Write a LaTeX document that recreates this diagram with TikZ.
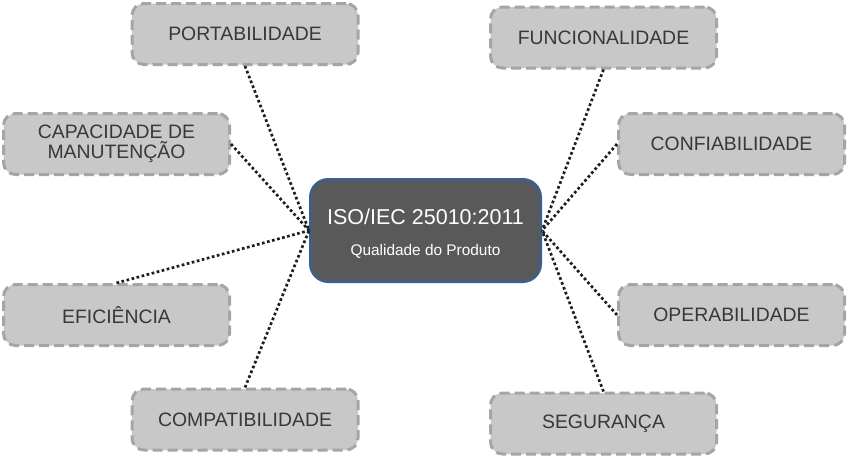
\documentclass[tikz,border=0pt]{standalone}
\usepackage{fontspec}
\setmainfont{Liberation Sans}
\definecolor{boxfill}{HTML}{C8C8C8}
\definecolor{boxline}{HTML}{A5A5A5}
\definecolor{boxtext}{HTML}{383838}
\definecolor{hubfill}{HTML}{595959}
\definecolor{hubline}{HTML}{3B5F8F}
\definecolor{dotline}{HTML}{1E1E1E}
\begin{document}
\begin{tikzpicture}[x=1pt,y=-1pt,
  topic/.style={draw=boxline, fill=boxfill, line width=3pt,
    dash pattern=on 10pt off 5pt, rounded corners=12pt,
    minimum width=226pt, minimum height=61pt, inner sep=0pt,
    text=boxtext, align=center,
    font=\fontsize{19.4}{20.5}\selectfont},
  hub/.style={draw=hubline, fill=hubfill, line width=2.5pt,
    rounded corners=18pt, minimum width=230.5pt, minimum height=102.5pt,
    inner sep=0pt},
  link/.style={draw=dotline, line width=2.7pt, dash pattern=on 2.7pt off 2.5pt}
]
\useasboundingbox (0,0) rectangle (848,458);

\node[hub] (hub) at (425.5,230.5) {};
\node[text=white, font=\fontsize{21.5}{24}\selectfont, anchor=base, inner sep=0pt] (title) at (425.5,224) {ISO/IEC 25010:2011};
\node[text=white, font=\fontsize{15.4}{18}\selectfont, anchor=base, inner sep=0pt] (sub) at (425.5,255.5) {Qualidade do Produto};

\node[topic] (port) at (245,34) {PORTABILIDADE};
\node[topic] (func) at (603.5,37.5) {FUNCIONALIDADE};
\node[topic] (manu) at (116.5,144) {CAPACIDADE DE\\MANUTENÇÃO};
\node[topic] (conf) at (731.5,144) {CONFIABILIDADE};
\node[topic] (efic) at (116.5,315) {EFICIÊNCIA};
\node[topic] (oper) at (731.5,315) {OPERABILIDADE};
\node[topic] (comp) at (245,419.5) {COMPATIBILIDADE};
\node[topic] (segu) at (603.5,423.5) {SEGURANÇA};

\path[link] (port.south) -- (hub.west);
\path[link] (manu.east) -- (hub.west);
\path[link] (efic.north) -- (hub.west);
\path[link] (comp.north) -- (hub.west);
\path[link] (func.south) -- (hub.east);
\path[link] (conf.west) -- (hub.east);
\path[link] (oper.west) -- (hub.east);
\path[link] (segu.north) -- (hub.east);
\end{tikzpicture}
\end{document}
